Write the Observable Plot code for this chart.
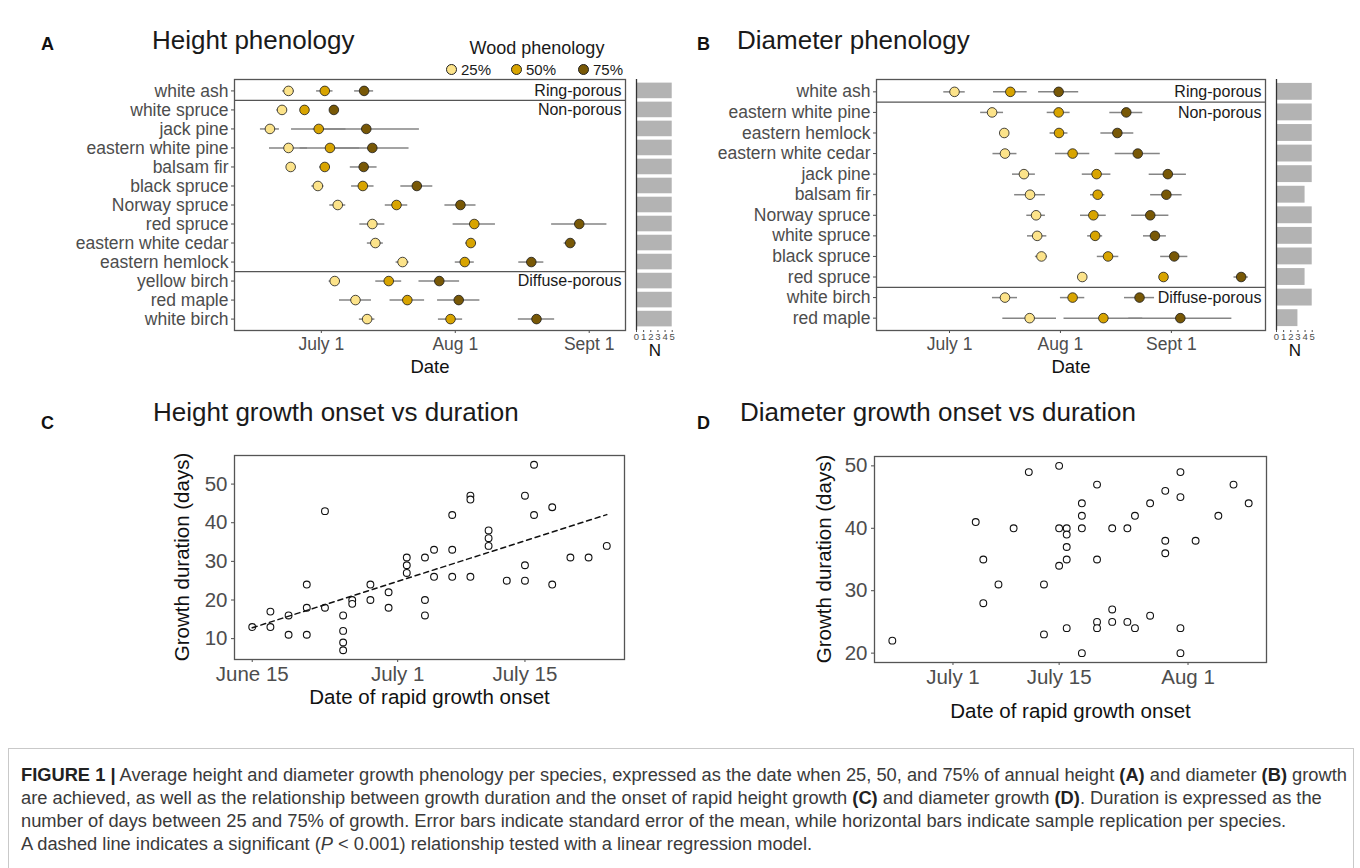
<!DOCTYPE html>
<html><head><meta charset="utf-8">
<script src="https://cdn.jsdelivr.net/npm/d3@7"></script>
<script src="https://cdn.jsdelivr.net/npm/@observablehq/plot@0.6"></script>
<style>
body{margin:0;background:#fff;font-family:"Liberation Sans",Arial,Helvetica,sans-serif;}
#fig{position:relative;width:1360px;height:868px;overflow:hidden;background:#fff;}
.abs{position:absolute;white-space:nowrap;line-height:1;}
.plab{font-weight:bold;font-size:18px;color:#111;}
.ptitle{font-size:26px;color:#1a1a1a;}
.legtitle{font-size:18px;color:#1a1a1a;}
.legitem{font-size:15px;color:#1a1a1a;display:flex;align-items:center;}
.ylab{font-size:20.5px;color:#111;transform:translate(-50%,-50%) rotate(-90deg);}
.sw{display:inline-block;width:9px;height:9px;border-radius:50%;border:1px solid #222;margin-right:4px;}
#caption{position:absolute;left:8px;top:748px;width:1346px;height:140px;border:1px solid #c9c9c9;box-sizing:border-box;padding:14px 0 0 12px;font-size:18.3px;line-height:23px;color:#3a3a3a;white-space:nowrap;}
#caption b{color:#222;}
</style></head><body><div id="fig"></div>
<script>
// ---------- DATA ----------
const phenologyLevels = ["25%", "50%", "75%"];
const phenologyColors = ["#FCE38A", "#D8A400", "#785806"];
const woodGroups = ["Ring-porous", "Non-porous", "Diffuse-porous"];
const dateTickDOY = [182, 213, 244];
const dateTickLabels = ["July 1", "Aug 1", "Sept 1"];
const nTicks = [0, 1, 2, 3, 4, 5];

// Panel A: height phenology (day of year)
const speciesA = ["white ash","white spruce","jack pine","eastern white pine","balsam fir","black spruce","Norway spruce","red spruce","eastern white cedar","eastern hemlock","yellow birch","red maple","white birch"];
const groupStartA = [0, 1, 10];
const heightP25 = [174.4,172.9,170.1,174.4,174.9,181.2,185.8,193.8,194.5,200.8,185.1,189.9,192.6];
const heightP25se = [1.35,1.2,2.2,4.4,0.5,1.4,1.85,2.9,1.85,1.5,1.3,3.7,1.8];
const heightP50 = [182.8,178.1,181.4,184.0,182.8,191.6,199.4,217.4,216.6,215.2,197.6,201.9,211.9];
const heightP50se = [1.9,0.5,6.3,6.9,1.2,2.6,2.6,4.9,1.2,2.2,3.0,4.0,2.8];
const heightP75 = [191.9,184.9,192.4,193.8,191.8,204.1,214.2,241.7,239.6,230.6,209.3,213.8,231.8];
const heightP75se = [2.2,0.5,12.3,8.5,3.1,3.7,3.6,6.4,1.4,2.9,4.7,4.9,4.2];
const heightN = [5,5,5,5,5,5,5,5,5,5,5,5,5];

// Panel B: diameter phenology (day of year)
const speciesB = ["white ash","eastern white pine","eastern hemlock","eastern white cedar","jack pine","balsam fir","Norway spruce","white spruce","black spruce","red spruce","white birch","red maple"];
const groupStartB = [0, 1, 10];
const diamP25 = [183.4,193.9,197.3,197.5,202.8,204.5,206.2,206.5,207.7,219.1,197.5,204.4];
const diamP25se = [3.0,3.2,0.4,3.35,3.2,4.3,2.6,2.7,1.7,0.4,3.5,7.5];
const diamP50 = [199.0,212.5,212.6,216.4,223.1,223.4,222.2,222.7,226.3,241.8,216.4,225.0];
const diamP50se = [4.7,3.2,2.5,4.8,4.0,2.0,3.6,2.1,3.0,0.4,3.4,11.0];
const diamP75 = [212.5,231.4,228.9,234.6,243.0,242.6,238.1,239.4,244.8,263.5,235.1,246.5];
const diamP75se = [5.6,4.6,4.6,6.3,5.2,4.4,5.2,3.2,3.8,2.0,4.2,14.4];
const diamN = [5,5,5,5,5,4,5,5,5,4,5,3];

// Panel C: height growth onset (DOY) vs duration (days)
const onsetHeight = [166,168,168,170,170,172,172,172,174,174,176,176,176,176,177,177,179,179,181,181,183,183,183,185,185,185,186,186,188,188,188,190,190,190,192,192,192,194,196,196,196,197,197,199,199,201,203,205];
const durationHeight = [13,17,13,16,11,24,18,11,43,18,16,12,9,7,20,19,24,20,22,18,31,29,27,31,20,16,33,26,42,33,26,47,46,26,38,36,34,25,47,29,25,55,42,44,24,31,31,34];
const ticksC = [166, 182, 196];
const tickLabelsC = ["June 15", "July 1", "July 15"];

// Panel D: diameter growth onset (DOY) vs duration (days)
const onsetDiameter = [174,185,186,186,188,190,192,194,194,196,196,196,197,197,197,197,197,199,199,199,199,201,201,201,201,203,203,203,205,205,206,206,208,208,210,210,210,212,212,212,212,214,217,219,221];
const durationDiameter = [22,41,35,28,31,40,49,31,23,50,40,34,40,39,37,35,24,44,42,40,20,47,35,25,24,40,27,25,40,25,42,24,44,26,46,38,36,49,45,24,20,38,42,47,44];
const ticksD = [182, 196, 213];
const tickLabelsD = ["July 1", "July 15", "Aug 1"];

// ---------- HELPERS ----------
const fig = document.getElementById("fig");
const FONT = "Liberation Sans, Arial, Helvetica, sans-serif";
function place(el, left, top) {
  el.style.position = "absolute";
  el.style.left = left + "px";
  el.style.top = top + "px";
  fig.appendChild(el);
}
function html(cls, text, left, top, extra) {
  const d = document.createElement("div");
  d.className = "abs " + cls;
  d.innerHTML = text;
  d.style.left = left + "px"; d.style.top = top + "px";
  if (extra) Object.assign(d.style, extra);
  fig.appendChild(d);
  return d;
}
const baseStyle = (fs) => ({fontFamily: FONT, fontSize: fs + "px", background: "transparent", overflow: "visible", color: "#4d4d4d"});

function phenologyPlot(species, groupStart, vals, ses, domain, width, mLeft, mRight) {
  const n = species.length;
  const pts = [];
  species.forEach((s, i) => phenologyLevels.forEach((q, k) => pts.push({i, q, v: vals[k][i], se: ses[k][i]})));
  const groups = groupStart.map((g, k) => ({i: g, label: woodGroups[k]}));
  const separators = groupStart.slice(1).map(g => g - 0.5);
  return Plot.plot({
    width, height: 390,
    marginLeft: mLeft, marginRight: mRight, marginTop: 79, marginBottom: 60,
    style: baseStyle(17.5),
    x: {domain, ticks: dateTickDOY, tickFormat: d => dateTickLabels[dateTickDOY.indexOf(d)], tickSize: 3, tickPadding: 4, label: null},
    y: {domain: [-0.6, n - 0.4], reverse: true, ticks: d3.range(n), tickFormat: i => species[i], tickSize: 3, tickPadding: 3, label: null},
    color: {domain: phenologyLevels, range: phenologyColors},
    marks: [
      Plot.ruleY(separators, {stroke: "#555", strokeWidth: 1.3}),
      Plot.ruleY(pts, {y: "i", x1: d => d.v - d.se, x2: d => d.v + d.se, stroke: "#858585", strokeWidth: 1.5}),
      Plot.dot(pts, {x: "v", y: "i", r: 4.8, fill: "q", stroke: "#1a1a1a", strokeWidth: 0.8}),
      Plot.text(groups, {y: "i", text: "label", frameAnchor: "right", textAnchor: "end", dx: -4, fontSize: 16, fill: "#1a1a1a"}),
      Plot.text(["Date"], {text: d => d, frameAnchor: "bottom", dy: 42, fontSize: 18.5, fill: "#111"}),
      Plot.frame({stroke: "#555", strokeWidth: 1.3})
    ]
  });
}

function nPlot(species, counts) {
  const n = species.length;
  const rows = counts.map((c, i) => ({i, c}));
  return Plot.plot({
    width: 50, height: 390,
    marginLeft: 6, marginRight: 7, marginTop: 79, marginBottom: 60,
    style: baseStyle(9.5),
    x: {domain: [0, 5.18], axis: null},
    y: {domain: [-0.6, n - 0.4], reverse: true, axis: null},
    marks: [
      Plot.rectX(rows, {x: "c", y1: d => d.i - 0.41, y2: d => d.i + 0.41, fill: "#b3b3b3"}),
      Plot.ruleX([0], {stroke: "#333", strokeWidth: 1.3}),
      Plot.axisX({ticks: nTicks, tickFormat: d => String(d), tickSize: 2, tickPadding: 1, fontSize: 9.5, label: null, color: "#4d4d4d"}),
      Plot.text(["N"], {text: d => d, frameAnchor: "bottom", dy: 25, fontSize: 17, fill: "#111"})
    ]
  });
}

function scatterPlot(xs, ys, xDomain, yDomain, ticks, tickLabels, yTicks, size, margins, regression, xLabDy) {
  const pts = xs.map((x, i) => ({x, y: ys[i]}));
  const marks = [
    Plot.frame({stroke: "#555", strokeWidth: 1.3}),
    Plot.dot(pts, {x: "x", y: "y", r: 3.4, fill: "white", stroke: "#111", strokeWidth: 1.1}),
    Plot.text(["Date of rapid growth onset"], {text: d => d, frameAnchor: "bottom", dy: xLabDy, fontSize: 20.5, fill: "#111"})
  ];
  if (regression) marks.push(Plot.linearRegressionY(pts, {x: "x", y: "y", ci: 0, stroke: "#111", strokeWidth: 1.5, strokeDasharray: "5,4"}));
  return Plot.plot({
    width: size[0], height: size[1],
    marginLeft: margins[0], marginRight: margins[1], marginTop: margins[2], marginBottom: margins[3],
    style: baseStyle(20.5),
    x: {domain: xDomain, ticks, tickFormat: d => tickLabels[ticks.indexOf(d)], tickSize: 3, tickPadding: 4, label: null},
    y: {domain: yDomain, ticks: yTicks, tickSize: 3, tickPadding: 4, label: null},
    marks
  });
}

// ---------- PANELS ----------
place(phenologyPlot(speciesA, groupStartA, [heightP25, heightP50, heightP75], [heightP25se, heightP50se, heightP75se], [161.9, 252.4], 640, 234, 15), 0, 0);
place(nPlot(speciesA, heightN), 630, 0);
place(phenologyPlot(speciesB, groupStartB, [diamP25, diamP50, diamP75], [diamP25se, diamP50se, diamP75se], [161.6, 270.3], 620, 216, 15), 660, 0);
place(nPlot(speciesB, diamN), 1270, 0);
place(scatterPlot(onsetHeight, durationHeight, [164.05, 206.95], [4.6, 57.4], ticksC, tickLabelsC, [10,20,30,40,50], [640, 290], [234, 16, 25, 61], true, 44), 0, 430);
place(scatterPlot(onsetDiameter, durationDiameter, [171.65, 223.35], [18.5, 51.5], ticksD, tickLabelsD, [20,30,40,50], [700, 310], [214, 94, 26, 78], false, 55), 660, 430);

// ---------- TEXT ----------
html("plab", "A", 41, 35);
html("ptitle", "Height phenology", 152, 27);
html("plab", "B", 697, 35);
html("ptitle", "Diameter phenology", 737, 27);
html("plab", "C", 41, 414);
html("ptitle", "Height growth onset vs duration", 153, 399);
html("plab", "D", 697, 414);
html("ptitle", "Diameter growth onset vs duration", 740, 399);
html("ylab", "Growth duration (days)", 182, 557);
html("ylab", "Growth duration (days)", 824, 559);

// legend
html("legtitle", "Wood phenology", 537, 39, {transform: "translateX(-50%)"});
const legXs = [446, 511, 578];
phenologyLevels.forEach((lv, k) => {
  html("legitem", `<span class="sw" style="background:${phenologyColors[k]}"></span>${lv}`, legXs[k], 62);
});

// caption
const cap = document.createElement("div");
cap.id = "caption";
cap.innerHTML = `<b>FIGURE 1 |</b> Average height and diameter growth phenology per species, expressed as the date when 25, 50, and 75% of annual height <b>(A)</b> and diameter <b>(B)</b> growth<br>` +
  `are achieved, as well as the relationship between growth duration and the onset of rapid height growth <b>(C)</b> and diameter growth <b>(D)</b>. Duration is expressed as the<br>` +
  `number of days between 25 and 75% of growth. Error bars indicate standard error of the mean, while horizontal bars indicate sample replication per species.<br>` +
  `A dashed line indicates a significant (<i>P</i> &lt; 0.001) relationship tested with a linear regression model.`;
fig.appendChild(cap);
</script></body></html>
